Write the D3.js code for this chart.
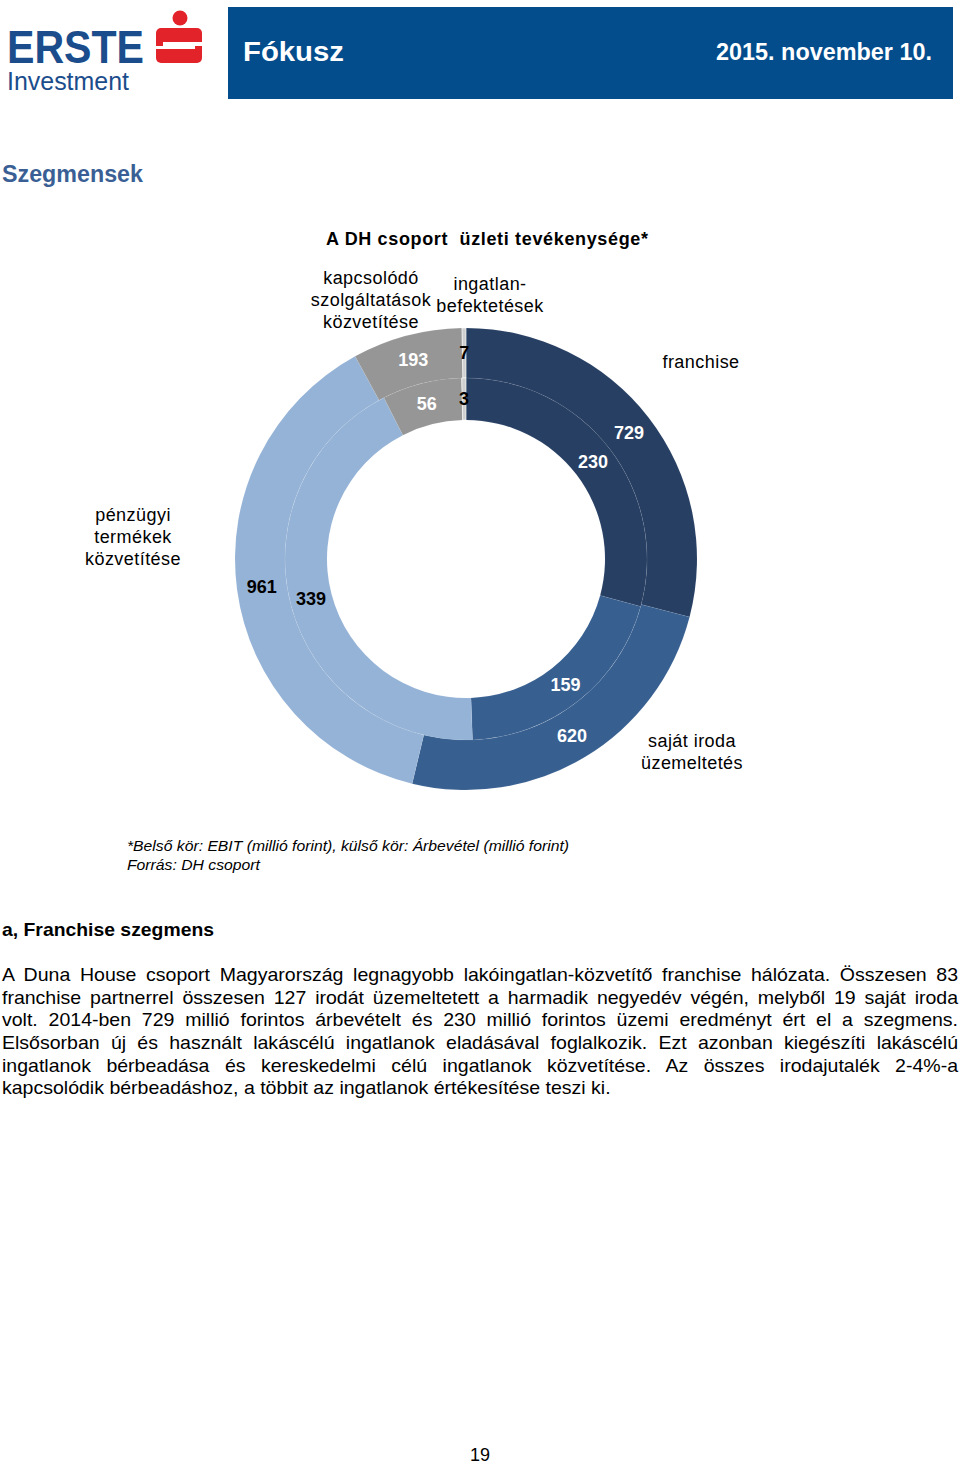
<!DOCTYPE html>
<html><head><meta charset="utf-8">
<script src="https://cdn.jsdelivr.net/npm/d3@7"></script>
<style>
html,body{margin:0;padding:0;background:#fff;}
svg{display:block;font-family:"Liberation Sans",Arial,sans-serif;}
</style></head>
<body>
<script>
// ---- data ----
const categories = ["franchise","saját iroda üzemeltetés","pénzügyi termékek közvetítése","kapcsolódó szolgáltatások közvetítése","ingatlan-befektetések"];
const revenue = [729, 620, 961, 193, 7];   // outer ring: Árbevétel (millió forint)
const ebit = [230, 159, 339, 56, 3];       // inner ring: EBIT (millió forint)
const sliceColors = ["#273f63", "#375f90", "#95b3d7", "#969696", "#cfcfcf"];
const labelColors = ["#fff", "#fff", "#000", "#fff", "#000"];
const categoryLines = [["franchise"],["saját iroda","üzemeltetés"],["pénzügyi","termékek","közvetítése"],["kapcsolódó","szolgáltatások","közvetítése"],["ingatlan-","befektetések"]];
const chartTitle = "A DH csoport  üzleti tevékenysége*";
const notes = ["*Belső kör: EBIT (millió forint), külső kör: Árbevétel (millió forint)", "Forrás: DH csoport"];
const paragraph = [
 "A Duna House csoport Magyarország legnagyobb lakóingatlan-közvetítő franchise hálózata. Összesen 83",
 "franchise partnerrel összesen 127 irodát üzemeltetett a harmadik negyedév végén, melyből 19 saját iroda",
 "volt. 2014-ben 729 millió forintos árbevételt és 230 millió forintos üzemi eredményt ért el a szegmens.",
 "Elsősorban új és használt lakáscélú ingatlanok eladásával foglalkozik. Ezt azonban kiegészíti lakáscélú",
 "ingatlanok bérbeadása és kereskedelmi célú ingatlanok közvetítése. Az összes irodajutalék 2-4%-a",
 "kapcsolódik bérbeadáshoz, a többit az ingatlanok értékesítése teszi ki."
];

const W = 960, H = 1465;
const svg = d3.select("body").append("svg").attr("width", W).attr("height", H);

// ---- header ----
const blue = "#1b4d8c";
svg.append("text").attr("x", 7).attr("y", 63).attr("font-size", 46).attr("font-weight", "bold")
  .attr("fill", blue).attr("textLength", 137).attr("lengthAdjust", "spacingAndGlyphs").text("ERSTE");
svg.append("text").attr("x", 7).attr("y", 90).attr("font-size", 25)
  .attr("fill", blue).attr("textLength", 122).attr("lengthAdjust", "spacingAndGlyphs").text("Investment");
// Sparkasse-style S
const red = "#e2232a";
svg.append("circle").attr("cx", 180).attr("cy", 18).attr("r", 7.5).attr("fill", red);
svg.append("rect").attr("x", 156).attr("y", 28).attr("width", 46).attr("height", 35).attr("rx", 5).attr("fill", red);
svg.append("rect").attr("x", 163).attr("y", 42).attr("width", 39).attr("height", 4).attr("fill", "#fff");
svg.append("rect").attr("x", 156).attr("y", 46).attr("width", 39).attr("height", 3).attr("fill", "#fff");
svg.append("rect").attr("x", 228).attr("y", 7).attr("width", 725).attr("height", 92).attr("fill", "#034d8d");
svg.append("text").attr("x", 243).attr("y", 61).attr("font-size", 28).attr("font-weight", "bold")
  .attr("fill", "#fff").attr("textLength", 101).attr("lengthAdjust", "spacingAndGlyphs").text("Fókusz");
svg.append("text").attr("x", 932).attr("y", 60).attr("font-size", 23).attr("font-weight", "bold")
  .attr("fill", "#fff").attr("text-anchor", "end").attr("textLength", 216).attr("lengthAdjust", "spacingAndGlyphs").text("2015. november 10.");

svg.append("text").attr("x", 2).attr("y", 182).attr("font-size", 23).attr("font-weight", "bold")
  .attr("fill", "#3a5f94").attr("textLength", 141).attr("lengthAdjust", "spacingAndGlyphs").text("Szegmensek");

// ---- chart ----
svg.append("text").attr("x", 487).attr("y", 245).attr("font-size", 18).attr("font-weight", "bold")
  .attr("text-anchor", "middle").attr("textLength", 322).attr("lengthAdjust", "spacing")
  .style("white-space", "pre").text(chartTitle);

const cx = 466, cy = 559;
const rHole = 139, rMid = 181, rOuter = 231;
const g = svg.append("g").attr("transform", `translate(${cx},${cy})`);
const pie = d3.pie().sort(null).value(d => d.v);
const outerData = pie(revenue.map((v, i) => ({v, i})));
const innerData = pie(ebit.map((v, i) => ({v, i})));
const outerArc = d3.arc().innerRadius(rMid).outerRadius(rOuter);
const innerArc = d3.arc().innerRadius(rHole).outerRadius(rMid);
const outerLab = d3.arc().innerRadius(206).outerRadius(206);
const innerLab = d3.arc().innerRadius(160).outerRadius(160);

function ring(cls, data, arcGen) {
  g.selectAll("path." + cls).data(data).join("path").attr("class", cls)
    .attr("d", arcGen).attr("fill", d => sliceColors[d.data.i])
    .attr("stroke", "#fff")
    .attr("stroke-width", d => d.data.i === 4 ? 0.8 : 0.5)
    .attr("stroke-opacity", d => d.data.i === 4 ? 0.8 : 0.12);
}
ring("outer", outerData, outerArc);
ring("inner", innerData, innerArc);

function valueLabels(data, arcGen) {
  g.append("g").selectAll("text").data(data).join("text")
    .attr("transform", d => `translate(${arcGen.centroid(d)})`)
    .attr("text-anchor", "middle").attr("dy", "0.35em")
    .attr("font-size", 18).attr("font-weight", "bold")
    .attr("fill", d => labelColors[d.data.i]).text(d => d.data.v);
}
valueLabels(outerData, outerLab);
valueLabels(innerData, innerLab);

// category labels (placed around the ring)
const catPos = [[701, 368], [692, 747], [133, 521], [371, 284], [490, 290]];
categoryLines.forEach((lines, i) => {
  const t = svg.append("text").attr("font-size", 18).attr("letter-spacing", 0.45).attr("fill", "#000").attr("text-anchor", "middle");
  lines.forEach((ln, j) => t.append("tspan").attr("x", catPos[i][0]).attr("y", catPos[i][1] + j * 22).text(ln));
});

// notes
svg.append("text").attr("x", 127).attr("y", 851).attr("font-size", 15).attr("font-style", "italic")
  .attr("textLength", 442).attr("lengthAdjust", "spacingAndGlyphs").text(notes[0]);
svg.append("text").attr("x", 127).attr("y", 870).attr("font-size", 15).attr("font-style", "italic")
  .attr("textLength", 133).attr("lengthAdjust", "spacingAndGlyphs").text(notes[1]);

// ---- body text ----
svg.append("text").attr("x", 2).attr("y", 936).attr("font-size", 19).attr("font-weight", "bold")
  .attr("textLength", 212).attr("lengthAdjust", "spacingAndGlyphs").text("a, Franchise szegmens");
const left = 2, right = 958, y0 = 981, lh = 22.7;
paragraph.forEach((ln, i) => {
  const t = svg.append("text").attr("x", left).attr("y", y0 + i * lh).attr("font-size", 18)
    .attr("transform", `translate(${left},0) scale(1.085,1) translate(${-left},0)`)
    .style("white-space", "pre").text(ln);
  if (i < paragraph.length - 1) {
    const w = t.node().getComputedTextLength();
    const spaces = (ln.match(/ /g) || []).length;
    t.attr("word-spacing", (((right - left) / 1.085 - w) / spaces).toFixed(2));
  }
});

svg.append("text").attr("x", 480).attr("y", 1461).attr("font-size", 18).attr("text-anchor", "middle").text("19");
</script>
</body></html>
